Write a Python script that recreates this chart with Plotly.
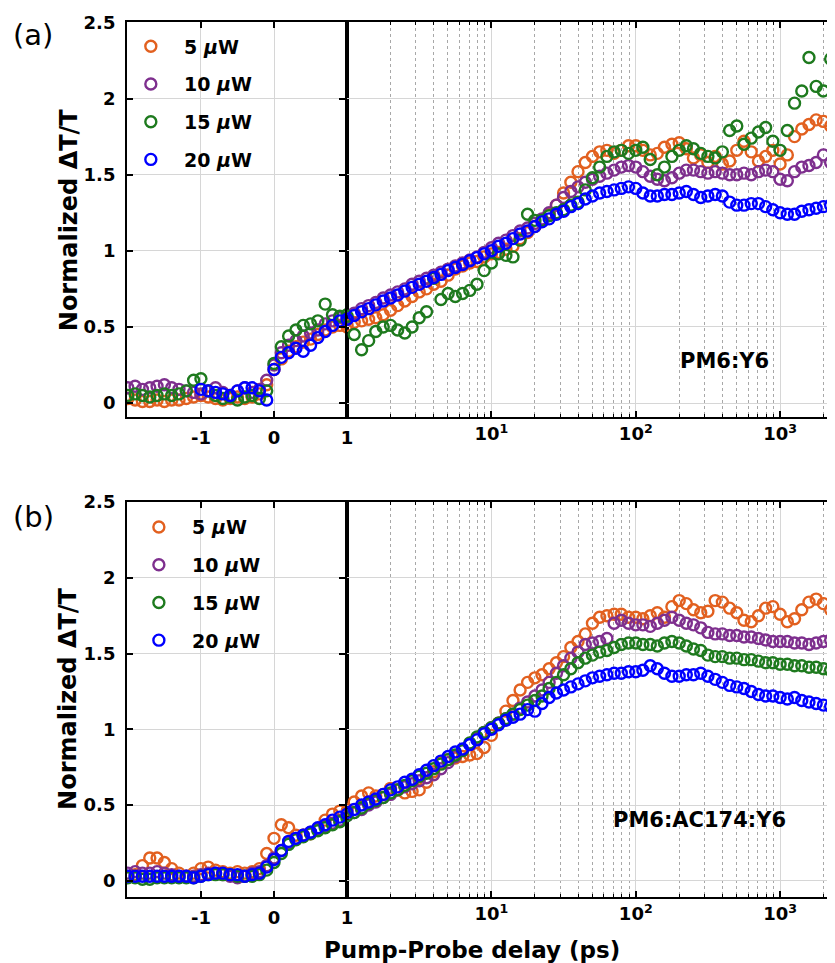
import plotly.graph_objects as go

# ---------------- data ----------------
labels = ["5 <i>μ</i>W", "10 <i>μ</i>W", "15 <i>μ</i>W", "20 <i>μ</i>W"]
colors = ["#E2601F", "#7E2F8E", "#1E7A1E", "#0000FF"]

t_lin = [-2.0, -1.9, -1.8, -1.7, -1.6, -1.5, -1.4, -1.3, -1.2, -1.1, -1.0,
         -0.9, -0.8, -0.7, -0.6, -0.5, -0.4, -0.3, -0.2, -0.1, 0.0,
         0.1, 0.2, 0.3, 0.4, 0.5, 0.6, 0.7, 0.8, 0.9, 1.0]

t_log = [1.0, 1.12, 1.26, 1.41, 1.58, 1.78, 2.0, 2.24, 2.51, 2.82,
         3.16, 3.55, 3.98, 4.47, 5.01, 5.62, 6.31, 7.08, 7.94, 8.91,
         10.0, 11.2, 12.6, 14.1, 15.8, 17.8, 20.0, 22.4, 25.1, 28.2,
         31.6, 35.5, 39.8, 44.7, 50.1, 56.2, 63.1, 70.8, 79.4, 89.1,
         100, 112, 126, 141, 158, 178, 200, 224, 251, 282,
         316, 355, 398, 447, 501, 562, 631, 708, 794, 891,
         1000, 1122, 1259, 1413, 1585, 1778, 1995, 2239, 2512]

# ---- panel (a) PM6:Y6 ----
orange_a_lin = [0.03, 0.02, 0.01, 0.01, 0.02, 0.01, 0.02, 0.02, 0.03, 0.04, 0.05,
                0.04, 0.03, 0.02, 0.03, 0.04, 0.03, 0.04, 0.06, 0.12, 0.22,
                0.29, 0.34, 0.37, 0.40, 0.42, 0.45, 0.48, 0.50, 0.51, 0.50]
purple_a_lin = [0.10, 0.11, 0.09, 0.10, 0.11, 0.12, 0.10, 0.09, 0.08, 0.07, 0.06,
                0.08, 0.10, 0.07, 0.05, 0.08, 0.10, 0.07, 0.09, 0.15, 0.25,
                0.33, 0.38, 0.41, 0.44, 0.46, 0.48, 0.52, 0.54, 0.56, 0.56]
green_a_lin = [0.05, 0.06, 0.05, 0.04, 0.05, 0.06, 0.05, 0.06, 0.08, 0.15, 0.16,
               0.08, 0.05, 0.03, 0.04, 0.02, 0.04, 0.05, 0.03, 0.08, 0.26,
               0.37, 0.44, 0.48, 0.51, 0.52, 0.54, 0.65, 0.58, 0.57, 0.58]
blue_a_lin = [None, None, None, None, None, None, None, None, None, None, 0.09,
              0.08, 0.07, 0.06, 0.05, 0.08, 0.10, 0.10, 0.08, 0.02, 0.22,
              0.30, 0.33, 0.36, 0.34, 0.38, 0.43, 0.47, 0.51, 0.54, 0.55]

orange_a_log = [0.51, 0.53, 0.54, 0.55, 0.56, 0.58, 0.61, 0.64, 0.67, 0.70,
                0.73, 0.75, 0.78, 0.80, 0.84, 0.88, 0.90, 0.92, 0.93, 0.96,
                0.98, 0.99, 1.01, 1.03, 1.08, 1.12, 1.16, 1.20, 1.24, 1.30,
                1.38, 1.45, 1.52, 1.58, 1.62, 1.65, 1.66, 1.64, 1.66, 1.69,
                1.69, 1.66, 1.63, 1.64, 1.68, 1.70, 1.71, 1.67, 1.61, 1.63,
                1.58, 1.62, 1.57, 1.59, 1.66, 1.72, 1.65, 1.59, 1.62, 1.66,
                1.57, 1.63, 1.75, 1.80, 1.83, 1.86, 1.85, 1.82, 1.72]
purple_a_log = [0.56, 0.59, 0.62, 0.64, 0.66, 0.69, 0.71, 0.73, 0.75, 0.78,
                0.80, 0.82, 0.84, 0.86, 0.88, 0.90, 0.92, 0.94, 0.96, 0.99,
                1.02, 1.05, 1.07, 1.10, 1.13, 1.15, 1.18, 1.21, 1.25, 1.30,
                1.35, 1.39, 1.42, 1.45, 1.47, 1.49, 1.51, 1.53, 1.55, 1.56,
                1.55, 1.52, 1.49, 1.47, 1.46, 1.48, 1.51, 1.53, 1.53, 1.52,
                1.51, 1.52, 1.51, 1.50, 1.50, 1.51, 1.50, 1.52, 1.53, 1.52,
                1.47, 1.46, 1.52, 1.55, 1.56, 1.58, 1.63, 1.58, 1.48]
green_a_log = [0.57, 0.45, 0.35, 0.41, 0.47, 0.50, 0.51, 0.48, 0.46, 0.50,
               0.56, 0.60, 0.82, 0.68, 0.72, 0.70, 0.72, 0.74, 0.78, 0.87,
               0.92, 0.98, 0.97, 0.96, 1.07, 1.24, 1.20, 1.20, 1.23, 1.25,
               1.27, 1.30, 1.32, 1.40, 1.48, 1.55, 1.62, 1.65, 1.66, 1.64,
               1.66, 1.68, 1.60, 1.50, 1.55, 1.62, 1.66, 1.69, 1.67, 1.64,
               1.62, 1.61, 1.65, 1.79, 1.82, 1.70, 1.74, 1.78, 1.81, 1.72,
               1.66, 1.79, 1.97, 2.05, 2.27, 2.08, 2.05, 2.26, 2.02]
blue_a_log = [0.55, 0.575, 0.60, 0.62, 0.645, 0.67, 0.69, 0.71, 0.735, 0.76,
              0.78, 0.80, 0.825, 0.845, 0.87, 0.89, 0.91, 0.935, 0.955, 0.98,
              1.00, 1.03, 1.05, 1.08, 1.11, 1.13, 1.16, 1.19, 1.21, 1.24,
              1.26, 1.29, 1.31, 1.34, 1.36, 1.38, 1.39, 1.40, 1.41, 1.42,
              1.41, 1.38, 1.36, 1.36, 1.37, 1.37, 1.38, 1.39, 1.37, 1.35,
              1.36, 1.37, 1.36, 1.32, 1.30, 1.30, 1.31, 1.31, 1.29, 1.27,
              1.25, 1.24, 1.24, 1.26, 1.27, 1.28, 1.29, 1.30, 1.31]

# ---- panel (b) PM6:AC174:Y6 ----
orange_b_lin = [0.03, 0.04, 0.10, 0.15, 0.15, 0.12, 0.08, 0.05, 0.03, 0.05, 0.08,
                0.09, 0.07, 0.06, 0.05, 0.06, 0.05, 0.06, 0.08, 0.18, 0.28,
                0.37, 0.35, 0.30, 0.30, 0.31, 0.34, 0.40, 0.44, 0.46, 0.46]
purple_b_lin = [0.05, 0.06, 0.05, 0.05, 0.06, 0.05, 0.04, 0.03, 0.03, 0.03, 0.04,
                0.05, 0.05, 0.04, 0.03, 0.02, 0.03, 0.05, 0.06, 0.10, 0.15,
                0.20, 0.25, 0.28, 0.30, 0.32, 0.34, 0.36, 0.38, 0.40, 0.42]
green_b_lin = [0.02, 0.02, 0.01, 0.01, 0.02, 0.02, 0.02, 0.02, 0.02, 0.02, 0.03,
               0.04, 0.04, 0.04, 0.04, 0.03, 0.03, 0.03, 0.04, 0.07, 0.12,
               0.18, 0.24, 0.27, 0.29, 0.31, 0.33, 0.35, 0.37, 0.39, 0.41]
blue_b_lin = [0.03, 0.03, 0.03, 0.03, 0.03, 0.03, 0.03, 0.03, 0.03, 0.02, 0.03,
              0.04, 0.05, 0.05, 0.04, 0.04, 0.03, 0.04, 0.05, 0.09, 0.14,
              0.20, 0.26, 0.28, 0.30, 0.32, 0.35, 0.37, 0.40, 0.42, 0.44]

orange_b_log = [0.47, 0.52, 0.56, 0.58, 0.56, 0.57, 0.61, 0.60, 0.58, 0.59,
                0.60, 0.65, 0.72, 0.78, 0.80, 0.81, 0.82, 0.83, 0.84, 0.88,
                0.96, 1.04, 1.12, 1.19, 1.26, 1.31, 1.34, 1.36, 1.40, 1.44,
                1.48, 1.54, 1.58, 1.63, 1.70, 1.74, 1.75, 1.76, 1.76, 1.74,
                1.74, 1.73, 1.75, 1.77, 1.74, 1.81, 1.85, 1.83, 1.79, 1.77,
                1.78, 1.85, 1.84, 1.80, 1.77, 1.72, 1.71, 1.75, 1.80, 1.81,
                1.76, 1.71, 1.73, 1.79, 1.84, 1.86, 1.83, 1.79, 1.76]
purple_b_log = [0.43, 0.45, 0.47, 0.50, 0.52, 0.55, 0.57, 0.60, 0.62, 0.64,
                0.66, 0.68, 0.70, 0.74, 0.78, 0.82, 0.86, 0.90, 0.94, 0.98,
                1.01, 1.04, 1.07, 1.10, 1.14, 1.18, 1.22, 1.26, 1.31, 1.37,
                1.42, 1.47, 1.51, 1.56, 1.57, 1.58, 1.60, 1.70, 1.72, 1.70,
                1.69, 1.69, 1.68, 1.70, 1.72, 1.74, 1.72, 1.70, 1.69, 1.67,
                1.64, 1.63, 1.63, 1.62, 1.62, 1.61, 1.61, 1.60, 1.59, 1.58,
                1.58, 1.58, 1.57, 1.57, 1.56, 1.57, 1.58, 1.59, 1.60]
green_b_log = [0.43, 0.45, 0.48, 0.51, 0.53, 0.55, 0.58, 0.60, 0.63, 0.66,
               0.69, 0.71, 0.74, 0.77, 0.80, 0.83, 0.86, 0.91, 0.95, 0.98,
               1.01, 1.04, 1.07, 1.10, 1.13, 1.16, 1.19, 1.22, 1.27, 1.31,
               1.36, 1.40, 1.44, 1.47, 1.49, 1.51, 1.52, 1.54, 1.56, 1.57,
               1.57, 1.56, 1.56, 1.55, 1.57, 1.58, 1.57, 1.55, 1.53, 1.52,
               1.49, 1.48, 1.48, 1.47, 1.47, 1.46, 1.46, 1.45, 1.44, 1.44,
               1.43, 1.43, 1.42, 1.42, 1.41, 1.41, 1.40, 1.39, 1.38]
blue_b_log = [0.45, 0.47, 0.50, 0.52, 0.54, 0.57, 0.60, 0.62, 0.65, 0.67,
              0.70, 0.73, 0.76, 0.79, 0.82, 0.85, 0.87, 0.90, 0.93, 0.97,
              1.00, 1.03, 1.06, 1.08, 1.10, 1.13, 1.12, 1.17, 1.21, 1.24,
              1.26, 1.28, 1.30, 1.32, 1.34, 1.35, 1.36, 1.37, 1.37, 1.38,
              1.38, 1.39, 1.42, 1.40, 1.37, 1.35, 1.35, 1.36, 1.36, 1.37,
              1.35, 1.33, 1.31, 1.29, 1.28, 1.27, 1.25, 1.23, 1.22, 1.22,
              1.21, 1.20, 1.21, 1.19, 1.18, 1.17, 1.16, 1.15, 1.14]

y_tickvals = [0, 0.5, 1, 1.5, 2, 2.5]
y_ticktext = ["0", "0.5", "1", "1.5", "2", "2.5"]
lin_tickvals = [-1, 0, 1]
lin_ticktext = ["-1", "0", "1"]
log_tickvals = [10, 100, 1000]
log_ticktext = ["10<sup>1</sup>", "10<sup>2</sup>", "10<sup>3</sup>"]
log_minor = [2, 3, 4, 5, 6, 7, 8, 9, 20, 30, 40, 50, 60, 70, 80, 90,
             200, 300, 400, 500, 600, 700, 800, 900, 2000, 3000]

# ---------------- figure ----------------
# measured mapping from page CSS pixels to the photographed picture:
# picture = S * page ; figure top-left sits at page (EX, EY)
S = 0.987
EX, EY = 8.0, 18.8
W, H = 838, 957
FONT = "DejaVu Sans"


def fx(px):
    return (px / S - EX) / W


def fy(py):
    return 1 - (py / S - EY) / H


panels = [
    dict(xl="x", xg="x2", y="y", legend="legend", tag="a",
         lin=[orange_a_lin, purple_a_lin, green_a_lin, blue_a_lin],
         log=[orange_a_log, purple_a_log, green_a_log, blue_a_log]),
    dict(xl="x3", xg="x4", y="y2", legend="legend2", tag="b",
         lin=[orange_b_lin, purple_b_lin, green_b_lin, blue_b_lin],
         log=[orange_b_log, purple_b_log, green_b_log, blue_b_log]),
]

fig = go.Figure()
for p in panels:
    for k in range(4):
        mk = dict(symbol="circle-open", size=11, color=colors[k],
                  line=dict(width=2.4, color=colors[k]))
        nm = "\u00a0\u00a0" + labels[k]
        grp = p["tag"] + str(k)
        fig.add_trace(go.Scatter(x=t_lin, y=p["lin"][k], xaxis=p["xl"], yaxis=p["y"],
                                 mode="markers", marker=mk, name=nm, legendgroup=grp,
                                 legend=p["legend"], showlegend=True))
        fig.add_trace(go.Scatter(x=t_log, y=p["log"][k], xaxis=p["xg"], yaxis=p["y"],
                                 mode="markers", marker=mk, name=nm, legendgroup=grp,
                                 legend=p["legend"], showlegend=False))

tickfont = dict(family=FONT, size=18, color="black", weight="bold")
common = dict(showline=True, linecolor="black", linewidth=1.5, ticks="inside",
              tickcolor="black", tickwidth=1.5, ticklen=6, tickfont=tickfont,
              gridcolor="#d6d6d6", gridwidth=1.2, zeroline=False, showgrid=True)


def lin_axis(anchor):
    return dict(common, domain=[fx(126), fx(345)], anchor=anchor, range=[-2.014, 1],
                tickmode="array", tickvals=lin_tickvals, ticktext=lin_ticktext,
                mirror="ticks", ticklabelstandoff=4)


def log_axis(anchor):
    return dict(common, domain=[fx(345), min(1.0, fx(835))], anchor=anchor, type="log",
                range=[0, 3.415], tickmode="array", tickvals=log_tickvals,
                ticktext=log_ticktext, mirror="ticks", ticklabelstandoff=0,
                minor=dict(tickmode="array", tickvals=log_minor, ticks="inside",
                           ticklen=3, tickcolor="black", tickwidth=1,
                           showgrid=True, gridcolor="#a8a8a8", griddash="dot",
                           gridwidth=1))


def y_axis(anchor, dom, rng):
    return dict(common, domain=dom, anchor=anchor, range=rng, tickmode="array",
                tickvals=y_tickvals, ticktext=y_ticktext, mirror="allticks",
                ticklabelstandoff=6)


leg_common = dict(xanchor="left", yanchor="top", bgcolor="rgba(0,0,0,0)",
                  font=dict(family=FONT, size=19, color="black", weight="bold"),
                  tracegroupgap=10, traceorder="grouped", itemwidth=30)

fig.update_layout(
    width=W, height=H, margin=dict(l=0, r=0, t=0, b=0),
    paper_bgcolor="white", plot_bgcolor="white",
    xaxis=lin_axis("y"), xaxis2=log_axis("y"),
    xaxis3=lin_axis("y2"), xaxis4=log_axis("y2"),
    yaxis=y_axis("x", [fy(416), fy(22)], [-0.092, 2.5]),
    yaxis2=y_axis("x3", [fy(895), fy(501)], [-0.106, 2.5]),
    legend=dict(leg_common, x=fx(130), y=fy(27)),
    legend2=dict(leg_common, x=fx(138), y=fy(507)),
)

ann = [
    dict(text="(a)", x=fx(33), y=fy(35), font=dict(family=FONT, size=29, color="black")),
    dict(text="(b)", x=fx(33), y=fy(516), font=dict(family=FONT, size=29, color="black")),
    dict(text="Normalized ΔT/T", x=fx(68), y=fy(219), textangle=-90,
         font=dict(family=FONT, size=24, color="black", weight="bold")),
    dict(text="Normalized ΔT/T", x=fx(68), y=fy(697), textangle=-90,
         font=dict(family=FONT, size=24, color="black", weight="bold")),
    dict(text="PM6:Y6", x=fx(720), y=fy(360),
         font=dict(family=FONT, size=21, color="black", weight="bold")),
    dict(text="PM6:AC174:Y6", x=fx(695), y=fy(818),
         font=dict(family=FONT, size=21, color="black", weight="bold")),
    dict(text="Pump-Probe delay (ps)", x=fx(469), y=fy(948),
         font=dict(family=FONT, size=23, color="black", weight="bold")),
]
for a in ann:
    a.update(xref="paper", yref="paper", showarrow=False, xanchor="center", yanchor="middle")
fig.update_layout(annotations=ann)

fig.write_html("out.html")
